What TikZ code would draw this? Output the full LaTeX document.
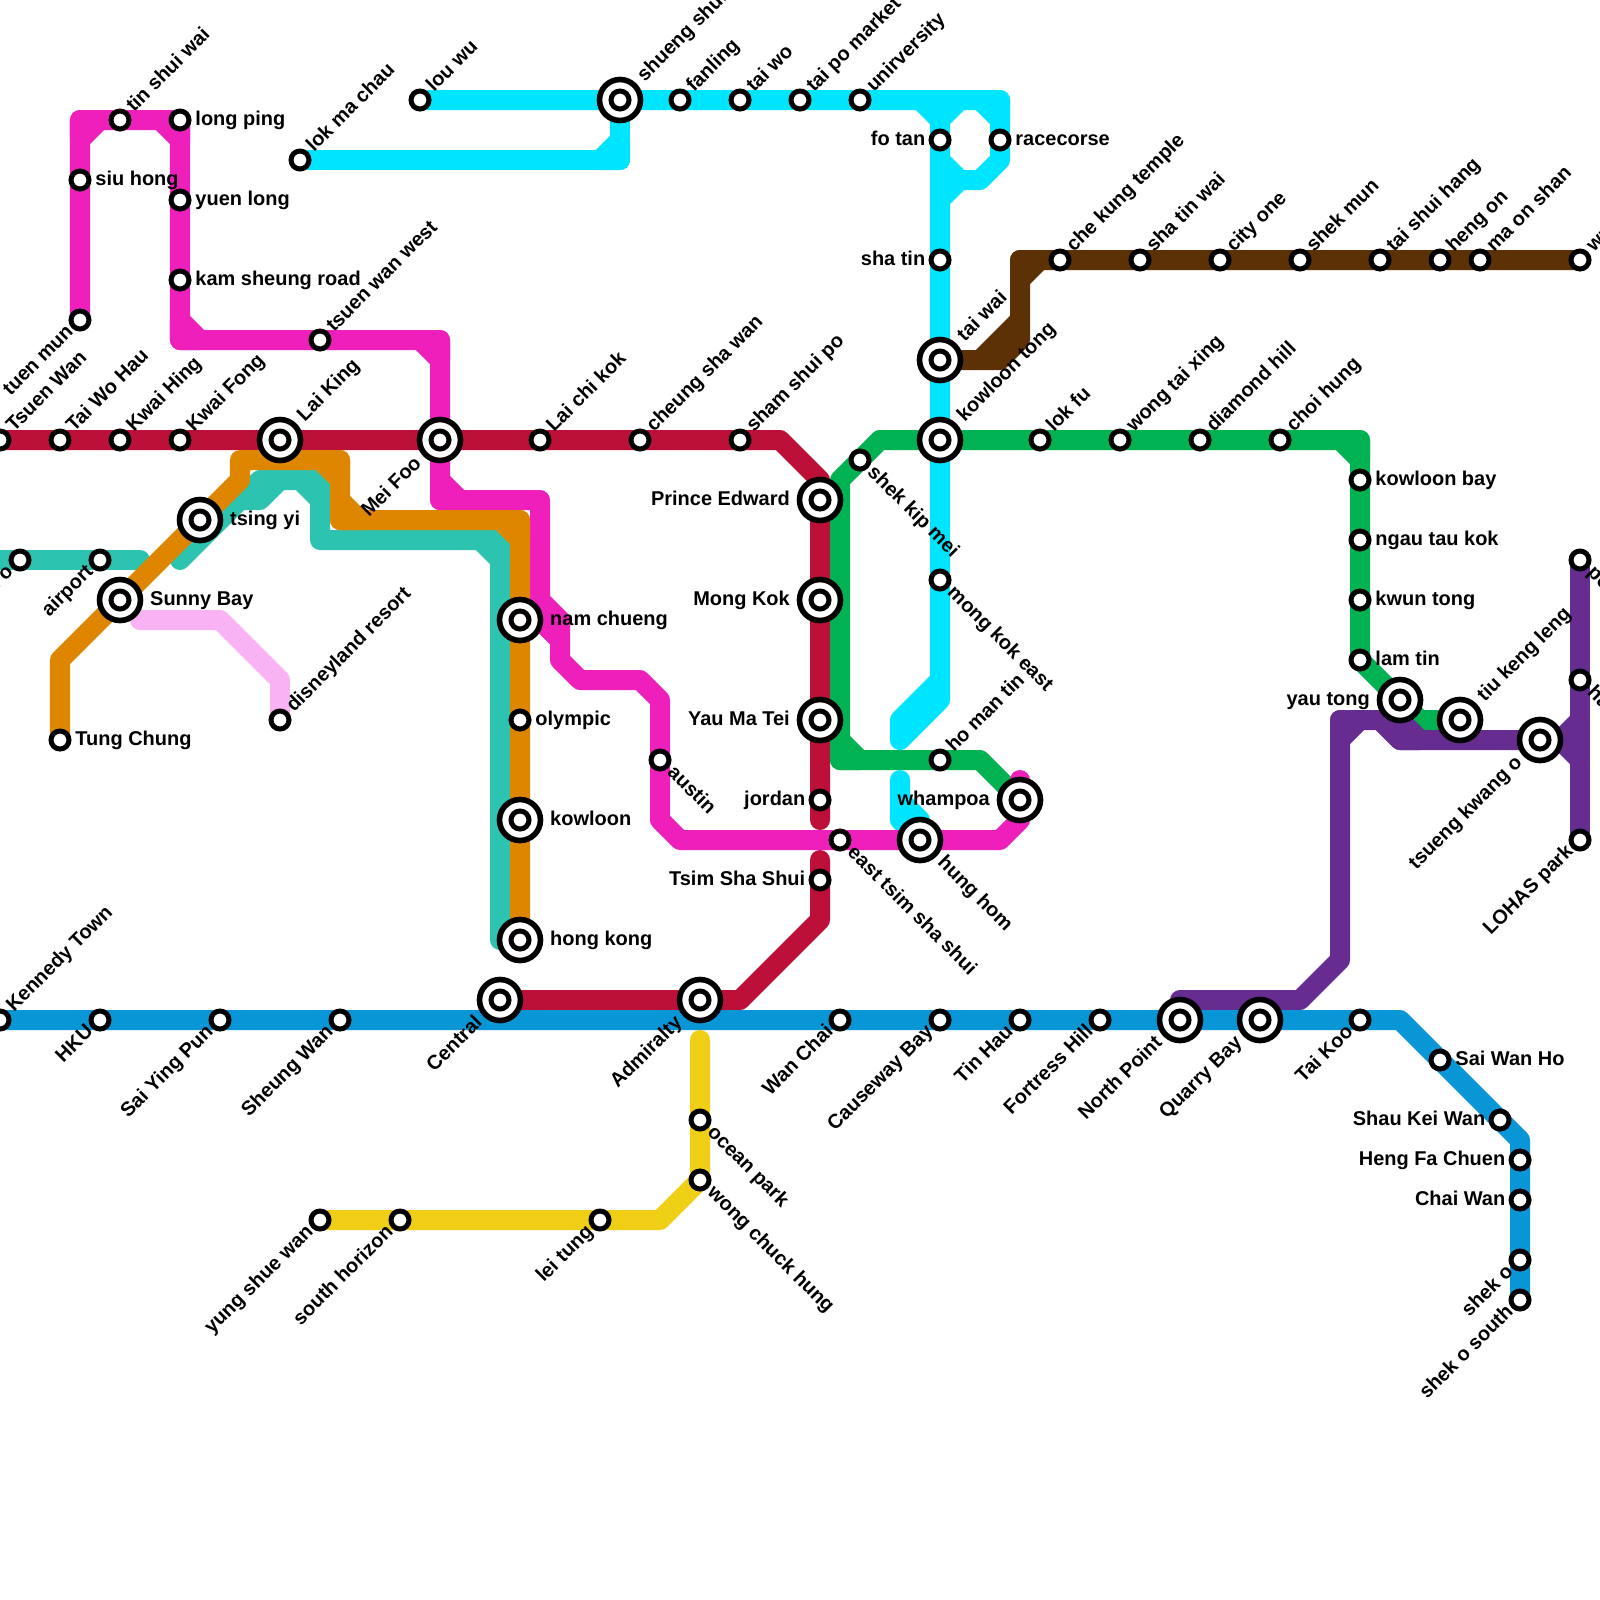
\documentclass[tikz,border=0pt]{standalone}
\usepackage{fontspec}
\setmainfont{Liberation Sans}
\definecolor{lnRed}{HTML}{BD1038}
\definecolor{lnBlue}{HTML}{0896D7}
\definecolor{lnPink}{HTML}{EE1FBB}
\definecolor{lnOrange}{HTML}{DF8600}
\definecolor{lnTeal}{HTML}{2CC4B0}
\definecolor{lnCyan}{HTML}{00E5FF}
\definecolor{lnGreen}{HTML}{00B251}
\definecolor{lnBrown}{HTML}{5C3106}
\definecolor{lnPurple}{HTML}{662C90}
\definecolor{lnYellow}{HTML}{F0CE15}
\definecolor{lnLight}{HTML}{F9B2F4}
\pgfdeclarelayer{lines}
\pgfsetlayers{lines,main}
\tikzset{
  route/.style={line width=14.23pt, line cap=round, line join=round},
  stn/.style={circle, draw=black, fill=white, line width=3.56pt, minimum size=12.8pt, inner sep=0pt},
  hub/.style={circle, draw=black, fill=white, line width=4pt, minimum size=29.15pt, inner sep=0pt,
    path picture={\draw[line width=3.56pt] (path picture bounding box.center) circle (6.4pt);}},
  lbl/.style={font=\bfseries\fontsize{14.2}{16}\selectfont, inner sep=0pt},
  labE/.style={lbl, anchor=mid west, xshift=#1, yshift=-1.2pt}, labE/.default=10.8pt,
  labW/.style={lbl, anchor=mid east, xshift=-#1, yshift=-1.2pt}, labW/.default=10.3pt,
  labNE/.style={lbl, rotate=45, anchor=mid west, xshift=#1, yshift=-0.8pt}, labNE/.default=10.5pt,
  labSE/.style={lbl, rotate=-45, anchor=mid west, xshift=#1, yshift=-0.8pt}, labSE/.default=10pt,
  labSW/.style={lbl, rotate=45, anchor=mid east, xshift=-#1, yshift=-0.8pt}, labSW/.default=9.2pt,
}
\begin{document}
\begin{tikzpicture}[x=0.5cm,y=-0.5cm]
\useasboundingbox (0,0) rectangle (80,80);

% tsuen wan line
\node[stn] (R1) at (0,22) {};
\node[stn] (R2) at (3,22) {};
\node[stn] (R3) at (6,22) {};
\node[stn] (R4) at (9,22) {};
\node[hub] (R5) at (14,22) {};
\node[hub] (R6) at (22,22) {};
\node[stn] (R7) at (27,22) {};
\node[stn] (R8) at (32,22) {};
\node[stn] (R9) at (37,22) {};
\node[hub] (R10) at (41,25) {};
\node[hub] (R11) at (41,30) {};
\node[hub] (R12) at (41,36) {};
\node[stn] (R13) at (41,40) {};
\node[stn] (R14) at (41,44) {};
\node[hub] (R15) at (35,50) {};
\node[hub] (R16) at (25,50) {};
\node[labNE] (R1t) at (R1) {Tsuen Wan};
\node[labNE] (R2t) at (R2) {Tai Wo Hau};
\node[labNE] (R3t) at (R3) {Kwai Hing};
\node[labNE] (R4t) at (R4) {Kwai Fong};
\node[labNE=21.3pt] (R5t) at (R5) {Lai King};
\node[labSW=21pt] (R6t) at (R6) {Mei Foo};
\node[labNE] (R7t) at (R7) {Lai chi kok};
\node[labNE] (R8t) at (R8) {cheung sha wan};
\node[labNE] (R9t) at (R9) {sham shui po};
\node[labW=21.3pt] (R10t) at (R10) {Prince Edward};
\node[labW=21.3pt] (R11t) at (R11) {Mong Kok};
\node[labW=21.3pt] (R12t) at (R12) {Yau Ma Tei};
\node[labW] (R13t) at (R13) {jordan};
\node[labW] (R14t) at (R14) {Tsim Sha Shui};
\node[labSW=20.3pt] (R15t) at (R15) {Admiralty};
\node[labSW=20.3pt] (R16t) at (R16) {Central};

% island line
\node[stn] (B1) at (0,51) {};
\node[stn] (B2) at (5,51) {};
\node[stn] (B3) at (11,51) {};
\node[stn] (B4) at (17,51) {};
\node[stn] (B5) at (42,51) {};
\node[stn] (B6) at (47,51) {};
\node[stn] (B7) at (51,51) {};
\node[stn] (B8) at (55,51) {};
\node[hub] (B9) at (59,51) {};
\node[hub] (B10) at (63,51) {};
\node[stn] (B11) at (68,51) {};
\node[stn] (B12) at (72,53) {};
\node[stn] (B13) at (75,56) {};
\node[stn] (B14) at (76,58) {};
\node[stn] (B15) at (76,60) {};
\node[stn] (B16) at (76,63) {};
\node[stn] (B17) at (76,65) {};
\node[labNE] (B1t) at (B1) {Kennedy Town};
\node[labSW] (B2t) at (B2) {HKU};
\node[labSW] (B3t) at (B3) {Sai Ying Pun};
\node[labSW] (B4t) at (B4) {Sheung Wan};
\node[labSW] (B5t) at (B5) {Wan Chai};
\node[labSW] (B6t) at (B6) {Causeway Bay};
\node[labSW] (B7t) at (B7) {Tin Hau};
\node[labSW] (B8t) at (B8) {Fortress Hill};
\node[labSW=20.3pt] (B9t) at (B9) {North Point};
\node[labSW=20.3pt] (B10t) at (B10) {Quarry Bay};
\node[labSW] (B11t) at (B11) {Tai Koo};
\node[labE] (B12t) at (B12) {Sai Wan Ho};
\node[labW] (B13t) at (B13) {Shau Kei Wan};
\node[labW] (B14t) at (B14) {Heng Fa Chuen};
\node[labW] (B15t) at (B15) {Chai Wan};
\node[labSW] (B16t) at (B16) {shek o};
\node[labSW] (B17t) at (B17) {shek o south};

% pink line
\node[stn] (P1) at (4,16) {};
\node[stn] (P2) at (4,9) {};
\node[stn] (P3) at (6,6) {};
\node[stn] (P4) at (9,6) {};
\node[stn] (P5) at (9,10) {};
\node[stn] (P6) at (9,14) {};
\node[stn] (P7) at (16,17) {};
\node[hub] (P8) at (26,31) {};
\node[stn] (P9) at (33,38) {};
\node[stn] (P10) at (42,42) {};
\node[hub] (P11) at (46,42) {};
\node[hub] (P12) at (51,40) {};
\node[labSW] (P1t) at (P1) {tuen mun};
\node[labE] (P2t) at (P2) {siu hong};
\node[labNE] (P3t) at (P3) {tin shui wai};
\node[labE] (P4t) at (P4) {long ping};
\node[labE] (P5t) at (P5) {yuen long};
\node[labE] (P6t) at (P6) {kam sheung road};
\node[labNE] (P7t) at (P7) {tsuen wan west};
\node[labE=21.3pt] (P8t) at (P8) {nam chueng};
\node[labSE] (P9t) at (P9) {austin};
\node[labSE] (P10t) at (P10) {east tsim sha shui};
\node[labSE=20.3pt] (P11t) at (P11) {hung hom};
\node[labW=21.3pt] (P12t) at (P12) {whampoa};

% airport line and disney
\node[stn] (O1) at (3,37) {};
\node[hub] (O2) at (6,30) {};
\node[hub] (O3) at (10,26) {};
\node[stn] (O4) at (26,36) {};
\node[hub] (O5) at (26,41) {};
\node[hub] (O6) at (26,47) {};
\node[stn] (T1) at (1,28) {};
\node[stn] (T2) at (5,28) {};
\node[stn] (D1) at (14,36) {};
\node[labE] (O1t) at (O1) {Tung Chung};
\node[labE=21.3pt] (O2t) at (O2) {Sunny Bay};
\node[labE=21.3pt] (O3t) at (O3) {tsing yi};
\node[labE] (O4t) at (O4) {olympic};
\node[labE=21.3pt] (O5t) at (O5) {kowloon};
\node[labE=21.3pt] (O6t) at (O6) {hong kong};
\node[labSW] (T1t) at (T1) {tai o};
\node[labSW] (T2t) at (T2) {airport};
\node[labNE] (D1t) at (D1) {disneyland resort};

% east rail
\node[stn] (C1) at (21,5) {};
\node[stn] (C2) at (15,8) {};
\node[hub] (C3) at (31,5) {};
\node[stn] (C4) at (34,5) {};
\node[stn] (C5) at (37,5) {};
\node[stn] (C6) at (40,5) {};
\node[stn] (C7) at (43,5) {};
\node[stn] (C8) at (47,7) {};
\node[stn] (C9) at (50,7) {};
\node[stn] (C10) at (47,13) {};
\node[hub] (C11) at (47,18) {};
\node[hub] (C12) at (47,22) {};
\node[stn] (C13) at (47,29) {};
\node[labNE] (C1t) at (C1) {lou wu};
\node[labNE] (C2t) at (C2) {lok ma chau};
\node[labNE=21.3pt] (C3t) at (C3) {shueng shui};
\node[labNE] (C4t) at (C4) {fanling};
\node[labNE] (C5t) at (C5) {tai wo};
\node[labNE] (C6t) at (C6) {tai po market};
\node[labNE] (C7t) at (C7) {unirversity};
\node[labW] (C8t) at (C8) {fo tan};
\node[labE] (C9t) at (C9) {racecorse};
\node[labW] (C10t) at (C10) {sha tin};
\node[labNE=21.3pt] (C11t) at (C11) {tai wai};
\node[labNE=21.3pt] (C12t) at (C12) {kowloon tong};
\node[labSE] (C13t) at (C13) {mong kok east};

% kwun tong line
\node[stn] (G1) at (43,23) {};
\node[stn] (G2) at (52,22) {};
\node[stn] (G3) at (56,22) {};
\node[stn] (G4) at (60,22) {};
\node[stn] (G5) at (64,22) {};
\node[stn] (G6) at (68,24) {};
\node[stn] (G7) at (68,27) {};
\node[stn] (G8) at (68,30) {};
\node[stn] (G9) at (68,33) {};
\node[hub] (G10) at (70,35) {};
\node[hub] (G11) at (73,36) {};
\node[stn] (G12) at (47,38) {};
\node[labSE] (G1t) at (G1) {shek kip mei};
\node[labNE] (G2t) at (G2) {lok fu};
\node[labNE] (G3t) at (G3) {wong tai xing};
\node[labNE] (G4t) at (G4) {diamond hill};
\node[labNE] (G5t) at (G5) {choi hung};
\node[labE] (G6t) at (G6) {kowloon bay};
\node[labE] (G7t) at (G7) {ngau tau kok};
\node[labE] (G8t) at (G8) {kwun tong};
\node[labE] (G9t) at (G9) {lam tin};
\node[labW=21.3pt] (G10t) at (G10) {yau tong};
\node[labNE=21.3pt] (G11t) at (G11) {tiu keng leng};
\node[labNE] (G12t) at (G12) {ho man tin};

% tseung kwan o
\node[hub] (U1) at (77,37) {};
\node[stn] (U2) at (79,28) {};
\node[stn] (U3) at (79,34) {};
\node[stn] (U4) at (79,42) {};
\node[labSW=20.3pt] (U1t) at (U1) {tsueng kwang o};
\node[labSE] (U2t) at (U2) {po lam};
\node[labSE] (U3t) at (U3) {hang hau};
\node[labSW] (U4t) at (U4) {LOHAS park};

% ma on shan
\node[stn] (N1) at (53,13) {};
\node[stn] (N2) at (57,13) {};
\node[stn] (N3) at (61,13) {};
\node[stn] (N4) at (65,13) {};
\node[stn] (N5) at (69,13) {};
\node[stn] (N6) at (72,13) {};
\node[stn] (N7) at (74,13) {};
\node[stn] (N8) at (79,13) {};
\node[labNE] (N1t) at (N1) {che kung temple};
\node[labNE] (N2t) at (N2) {sha tin wai};
\node[labNE] (N3t) at (N3) {city one};
\node[labNE] (N4t) at (N4) {shek mun};
\node[labNE] (N5t) at (N5) {tai shui hang};
\node[labNE] (N6t) at (N6) {heng on};
\node[labNE] (N7t) at (N7) {ma on shan};
\node[labNE] (N8t) at (N8) {wu kai sha};

% south island
\node[stn] (Y1) at (35,56) {};
\node[stn] (Y2) at (35,59) {};
\node[stn] (Y3) at (30,61) {};
\node[stn] (Y4) at (20,61) {};
\node[stn] (Y5) at (16,61) {};
\node[labSE] (Y1t) at (Y1) {ocean park};
\node[labSE] (Y2t) at (Y2) {wong chuck hung};
\node[labSW] (Y3t) at (Y3) {lei tung};
\node[labSW] (Y4t) at (Y4) {south horizon};
\node[labSW] (Y5t) at (Y5) {yung shue wan};

% bends
\coordinate (r1) at (39,22);
\coordinate (r2) at (41,24);
\coordinate (r3) at (41,41);
\coordinate (r4) at (41,43);
\coordinate (r5) at (41,46);
\coordinate (r6) at (37,50);

\coordinate (a1) at (70,51);
\coordinate (a2) at (76,57);

\coordinate (p1) at (4,6);
\coordinate (p2) at (9,17);
\coordinate (p3) at (22,17);
\coordinate (p4) at (22,25);
\coordinate (p5) at (27,25);
\coordinate (p6) at (27,31);
\coordinate (p7) at (28,32);
\coordinate (p8) at (28,33);
\coordinate (p9) at (29,34);
\coordinate (p10) at (32,34);
\coordinate (p11) at (33,35);
\coordinate (p12) at (33,41);
\coordinate (p13) at (34,42);
\coordinate (p14) at (50,42);
\coordinate (p15) at (51,41);
\coordinate (p16) at (51,39);
\coordinate (p17) at (27,30);
\coordinate (p18) at (28,31);
\coordinate (p19) at (4,7);
\coordinate (p20) at (5,6);
\coordinate (p21) at (8,6);
\coordinate (p22) at (9,6);
\coordinate (p23) at (9,7);
\coordinate (p24) at (9,16);
\coordinate (p25) at (10,17);
\coordinate (p26) at (21,17);
\coordinate (p27) at (22,18);
\coordinate (p28) at (22,24);
\coordinate (p29) at (23,25);

\coordinate (o1) at (3,33);
\coordinate (o2) at (12,24);
\coordinate (o3) at (12,23);
\coordinate (o4) at (17,23);
\coordinate (o5) at (17,26);
\coordinate (o6) at (26,26);
\coordinate (o7) at (17,25);
\coordinate (o8) at (18,26);
\coordinate (o9) at (16,23);
\coordinate (o10) at (17,24);
\coordinate (o11) at (25,26);
\coordinate (o12) at (26,27);

\coordinate (t1) at (0,28);
\coordinate (t2) at (7,28);
\coordinate (t3) at (25,47);
\coordinate (t4) at (25,27);
\coordinate (t5) at (16,27);
\coordinate (t6) at (16,24);
\coordinate (t7) at (13,24);
\coordinate (t8) at (9,28);
\coordinate (t9) at (12,25);
\coordinate (t10) at (13,25);
\coordinate (t11) at (14,24);
\coordinate (t12) at (24,27);
\coordinate (t13) at (25,28);
\coordinate (t14) at (15,24);
\coordinate (t15) at (16,25);

\coordinate (l1) at (7,31);
\coordinate (l2) at (11,31);
\coordinate (l3) at (14,34);

\coordinate (c1) at (30,8);
\coordinate (c2) at (31,8);
\coordinate (c3) at (31,7);
\coordinate (c4) at (50,5);
\coordinate (c5) at (49,5);
\coordinate (c6) at (50,6);
\coordinate (c7) at (50,8);
\coordinate (c8) at (49,9);
\coordinate (c9) at (48,9);
\coordinate (c10) at (47,10);
\coordinate (c11) at (46,5);
\coordinate (c12) at (47,6);
\coordinate (c13) at (48,5);
\coordinate (c14) at (47,8);
\coordinate (c15) at (47,35);
\coordinate (c16) at (45,37);
\coordinate (c17) at (45,36);
\coordinate (c18) at (47,34);
\coordinate (c19) at (45,39);
\coordinate (c20) at (45,41);
\coordinate (c21) at (45,40);
\coordinate (c22) at (46,41);

\coordinate (g1) at (71,36);
\coordinate (g2) at (68,23);
\coordinate (g3) at (44,22);
\coordinate (g4) at (68,22);
\coordinate (g5) at (67,22);
\coordinate (g6) at (42,24);
\coordinate (g7) at (42,38);
\coordinate (g8) at (49,38);
\coordinate (g9) at (42,37);
\coordinate (g10) at (43,38);

\coordinate (u1) at (59,50);
\coordinate (u2) at (65,50);
\coordinate (u3) at (67,48);
\coordinate (u4) at (67,36);
\coordinate (u5) at (69,36);
\coordinate (u6) at (70,37);
\coordinate (u7) at (78,37);
\coordinate (u8) at (79,36);
\coordinate (u9) at (79,38);
\coordinate (u10) at (67,37);
\coordinate (u11) at (68,36);
\coordinate (u12) at (70,36);
\coordinate (u13) at (71,37);

\coordinate (b1) at (50,18);
\coordinate (b2) at (51,17);
\coordinate (b3) at (51,13);
\coordinate (b4) at (49,18);
\coordinate (b5) at (51,16);
\coordinate (b6) at (51,14);
\coordinate (b7) at (52,13);

\coordinate (y1) at (35,52);
\coordinate (y2) at (33,61);

\begin{pgfonlayer}{lines}
\draw[route,lnCyan] (C2.center)--(c2)--(C3.center);
\draw[route,lnCyan] (c1)--(c2)--(c3)--cycle;
\draw[route,lnCyan] (C1.center)--(C3.center)--(C4.center)--(C5.center)--(C6.center)--(C7.center)--(c4)--(C9.center)--(c7)--(c8)--(c9)--(c10);
\draw[route,lnCyan] (c5)--(c4)--(c6)--cycle;
\draw[route,lnCyan] (c11)--(c12)--(C8.center)--(C10.center)--(C11.center)--(C12.center)--(C13.center)--(c15)--(c16)--(c17)--(c18);
\draw[route,lnCyan] (c12)--(c13);
\draw[route,lnCyan] (c14)--(c9);
\draw[route,lnCyan] (c19)--(c20)--(P11.center);
\draw[route,lnCyan] (c21)--(c22);

\draw[route,lnRed] (R1.center)--(R2.center)--(R3.center)--(R4.center)--(R5.center)--(R6.center)--(R7.center)--(R8.center)--(R9.center)--(r1)--(r2)--(R10.center)--(R11.center)--(R12.center)--(R13.center)--(r3);
\draw[route,lnRed] (r4)--(R14.center)--(r5)--(r6)--(R15.center)--(R16.center);

\draw[route,lnGreen] (g3)--(C12.center)--(G2.center)--(G3.center)--(G4.center)--(G5.center)--(g4)--(G6.center)--(G7.center)--(G8.center)--(G9.center)--(G10.center)--(g1)--(G11.center);
\draw[route,lnGreen] (g5)--(g4)--(g2)--cycle;
\draw[route,lnGreen] (g3)--(G1.center)--(g6)--(g7)--(G12.center)--(g8)--(P12.center);
\draw[route,lnGreen] (g9)--(g7)--(g10)--cycle;

\draw[route,lnPink] (P1.center)--(P2.center)--(p1)--(P3.center)--(P4.center)--(P5.center)--(P6.center)--(p2)--(P7.center)--(p3)--(R6.center)--(p4)--(p5)--(p6)--(p7)--(p8)--(p9)--(p10)--(p11)--(P9.center)--(p12)--(p13)--(P10.center)--(P11.center)--(p14)--(p15)--(P12.center)--(p16);
\draw[route,lnPink] (p17)--(p18)--(p7)--(p6)--cycle;
\draw[route,lnPink] (p19)--(p1)--(p20)--cycle;
\draw[route,lnPink] (p21)--(p22)--(p23)--cycle;
\draw[route,lnPink] (p24)--(p2)--(p25)--cycle;
\draw[route,lnPink] (p26)--(p3)--(p27)--cycle;
\draw[route,lnPink] (p28)--(p4)--(p29)--cycle;

\draw[route,lnTeal] (t1)--(T1.center)--(T2.center)--(t2);
\draw[route,lnTeal] (t3)--(t4)--(t5)--(t6)--(t7)--(t8)--(t9)--(t10)--(t11);
\draw[route,lnTeal] (t12)--(t4)--(t13)--cycle;
\draw[route,lnTeal] (t14)--(t6)--(t15)--cycle;

\draw[route,lnOrange] (O1.center)--(o1)--(O2.center)--(O3.center)--(o2)--(o3)--(o4)--(o5)--(o6)--(P8.center)--(O4.center)--(O5.center)--(O6.center);
\draw[route,lnOrange] (o7)--(o5)--(o8)--cycle;
\draw[route,lnOrange] (o9)--(o4)--(o10)--cycle;
\draw[route,lnOrange] (o11)--(o6)--(o12)--cycle;

\draw[route,lnLight] (l1)--(l2)--(l3)--(D1.center);

\draw[route,lnBrown] (C11.center)--(b1)--(b2)--(b3)--(N1.center)--(N2.center)--(N3.center)--(N4.center)--(N5.center)--(N6.center)--(N7.center)--(N8.center);
\draw[route,lnBrown] (b4)--(b5);
\draw[route,lnBrown] (b6)--(b3)--(b7)--cycle;

\draw[route,lnPurple] (B9.center)--(u1)--(u2)--(u3)--(u4)--(u5)--(u6)--(U1.center);
\draw[route,lnPurple] (u10)--(u4)--(u11)--cycle;
\draw[route,lnPurple] (u5)--(u12)--(u13)--(u6)--cycle;
\draw[route,lnPurple] (U2.center)--(U3.center)--(U4.center);
\draw[route,lnPurple] (u8)--(u7)--(u9);

\draw[route,lnBlue] (B1.center)--(B2.center)--(B3.center)--(B4.center)--(B5.center)--(B6.center)--(B7.center)--(B8.center)--(B9.center)--(B10.center)--(B11.center)--(a1)--(B12.center)--(B13.center)--(a2)--(B14.center)--(B15.center)--(B16.center)--(B17.center);

\draw[route,lnYellow] (y1)--(Y1.center)--(Y2.center)--(y2)--(Y3.center)--(Y4.center)--(Y5.center);
\end{pgfonlayer}

\end{tikzpicture}
\end{document}
